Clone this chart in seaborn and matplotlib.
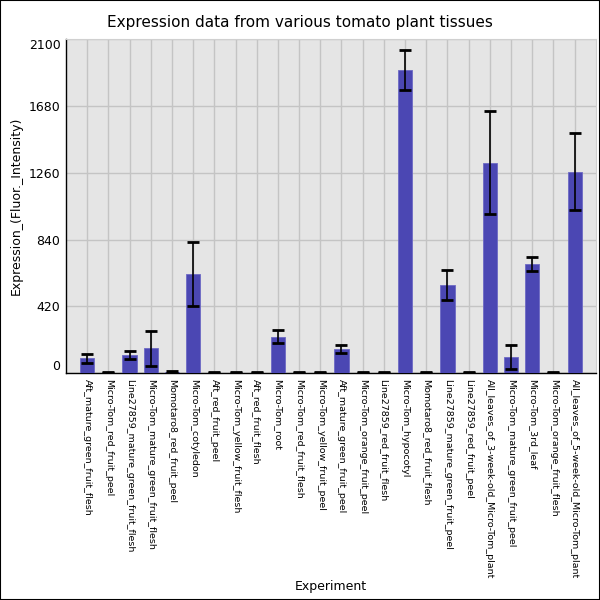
import numpy as np
import pandas as pd
import matplotlib
matplotlib.use("Agg")
import matplotlib.pyplot as plt
import seaborn as sns

# data
experiments = [
    "Aft_mature_green_fruit_flesh", "Micro-Tom_red_fruit_peel",
    "Line27859_mature_green_fruit_flesh", "Micro-Tom_mature_green_fruit_flesh",
    "Momotaro8_red_fruit_peel", "Micro-Tom_cotyledon", "Aft_red_fruit_peel",
    "Micro-Tom_yellow_fruit_flesh", "Aft_red_fruit_flesh", "Micro-Tom_root",
    "Micro-Tom_red_fruit_flesh", "Micro-Tom_yellow_fruit_peel",
    "Aft_mature_green_fruit_peel", "Micro-Tom_orange_fruit_peel",
    "Line27859_red_fruit_flesh", "Micro-Tom_hypocotyl",
    "Momotaro8_red_fruit_flesh", "Line27859_mature_green_fruit_peel",
    "Line27859_red_fruit_peel", "All_leaves_of_3-week-old_Micro-Tom_plant",
    "Micro-Tom_mature_green_fruit_peel", "Micro-Tom_3rd_leaf",
    "Micro-Tom_orange_fruit_flesh", "All_leaves_of_5-week-old_Micro-Tom_plant",
]
expression = [94, 3, 115, 158, 8, 624, 3, 3, 3, 229, 3, 3, 153, 3, 3, 1904,
              3, 555, 3, 1323, 102, 687, 3, 1266]
sd = [28, 3, 23, 110, 4, 200, 3, 3, 3, 42, 3, 3, 27, 3, 3, 126,
      3, 94, 3, 322, 78, 44, 3, 242]
yticks = [0, 420, 840, 1260, 1680, 2100]

df = pd.DataFrame({"Experiment": experiments, "Expression": expression, "sd": sd})

sns.set_style("whitegrid")
plt.rcParams["font.family"] = ["DejaVu Sans"]
plt.rcParams["text.color"] = "black"
plt.rcParams["axes.labelcolor"] = "black"

fig = plt.figure(figsize=(6, 6), dpi=100)
ax = fig.add_axes([0.11, 0.378, 0.883, 0.557])
ax.set_facecolor("#e5e5e5")

sns.barplot(data=df, x="Experiment", y="Expression", color="#4b47b3",
            saturation=1, width=0.67, edgecolor="#6d69c4", linewidth=0.6,
            errorbar=None, ax=ax, zorder=3)
ax.errorbar(np.arange(len(df)), df["Expression"], yerr=df["sd"], fmt="none",
            ecolor="black", elinewidth=1.2, capsize=4.5, capthick=2, zorder=4)

ax.set_xlim(-1, len(df))
ax.set_ylim(0, 2100)
ax.set_yticks(yticks)
ax.set_yticklabels([str(t) for t in yticks], fontsize=9)
ylabs = ax.get_yticklabels()
ylabs[0].set_va("bottom")
ylabs[-1].set_va("top")
ax.set_xticks(np.arange(len(df)))
ax.set_xticklabels(experiments, rotation=-90, fontsize=6.8, va="top", ha="center")
ax.tick_params(axis="both", length=0, pad=4, colors="black")

ax.grid(True, color="#c4c4c4", linewidth=1)
ax.set_axisbelow(True)
for side in ["top", "right"]:
    ax.spines[side].set_color("#d0d0d0")
    ax.spines[side].set_linewidth(0.8)
for side in ["left", "bottom"]:
    ax.spines[side].set_color("black")
    ax.spines[side].set_linewidth(1)

# title is centred on the figure, not on the axes
ax.set_title("Expression data from various tomato plant tissues", fontsize=11,
             pad=9, x=(0.5 - 0.11) / 0.883)
ax.set_ylabel("Expression_(Fluor._Intensity)", fontsize=9)
ax.set_xlabel("Experiment", fontsize=9)
ax.xaxis.set_label_coords(0.5, -0.62)

fig.patches.append(plt.Rectangle((0, 0), 1, 1, transform=fig.transFigure,
                                 fill=False, edgecolor="black", linewidth=1.5))

fig.savefig("out.png", dpi=100)
